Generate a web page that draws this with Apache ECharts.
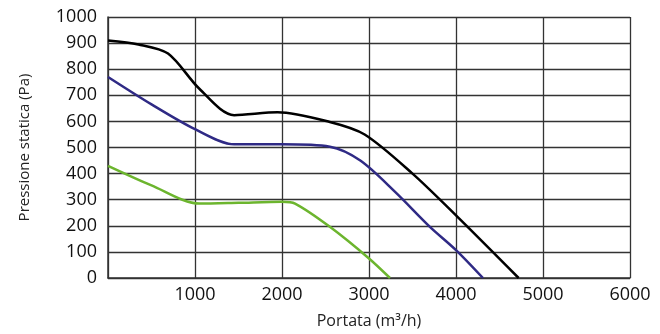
<!DOCTYPE html>
<html><head><meta charset="utf-8">
<script src="https://cdn.jsdelivr.net/npm/echarts@6/dist/echarts.min.js"></script>
<style>html,body{margin:0;padding:0;background:#fff}#c{width:660px;height:334px}</style>
</head><body><div id="c"></div>
<script>
const xTicks = [0, 1000, 2000, 3000, 4000, 5000, 6000];
const yTicks = [0, 100, 200, 300, 400, 500, 600, 700, 800, 900, 1000];
const blackCurve = [[0,910],[350,895],[690,860],[1050,725],[1450,624],[1950,635],[2550,598],[2950,550],[3500,400],[4000,240],[4720,0]];
const blueCurve = [[0,770],[500,665],[1000,570],[1450,512],[2000,512],[2550,503],[2900,450],[3300,330],[3700,196],[4000,107],[4310,0]];
const greenCurve = [[0,430],[500,355],[1050,285],[1500,288],[2000,292],[2150,285],[2550,196],[3000,75],[3241,0]];
const F = '"Open Sans", "DejaVu Sans", sans-serif';
const chart = echarts.init(document.getElementById('c'));
const mk = (d, c) => ({type:'line', data:d, smooth:0.3, symbol:'none', lineStyle:{color:c, width:2.5}});
chart.setOption({
  animation:false,
  grid:{left:108, top:17, right:30, bottom:56},
  xAxis:{type:'value', min:0, max:6000, interval:1000,
    name:'Portata (m³/h)', nameLocation:'middle', nameGap:35,
    nameTextStyle:{fontFamily:F, fontSize:16, color:'#222'},
    axisLine:{show:true, lineStyle:{color:'#333', width:1.5}},
    axisTick:{show:false},
    axisLabel:{showMinLabel:false, fontFamily:F, fontSize:18, color:'#111', margin:8, formatter: v => String(v)},
    splitLine:{show:true, lineStyle:{color:'#333', width:1.3}}},
  yAxis:{type:'value', min:0, max:1000, interval:100,
    name:'Pressione statica (Pa)', nameLocation:'middle', nameGap:76,
    nameTextStyle:{fontFamily:F, fontSize:15, color:'#222'},
    axisLine:{show:true, lineStyle:{color:'#333', width:1.5}},
    axisTick:{show:false},
    axisLabel:{fontFamily:F, fontSize:18, color:'#111', margin:11, formatter: v => String(v)},
    splitLine:{show:true, lineStyle:{color:'#333', width:1.3}}},
  series:[mk(blackCurve,'#000000'), mk(blueCurve,'#2f2a85'), mk(greenCurve,'#6cb52e')]
});
</script></body></html>
